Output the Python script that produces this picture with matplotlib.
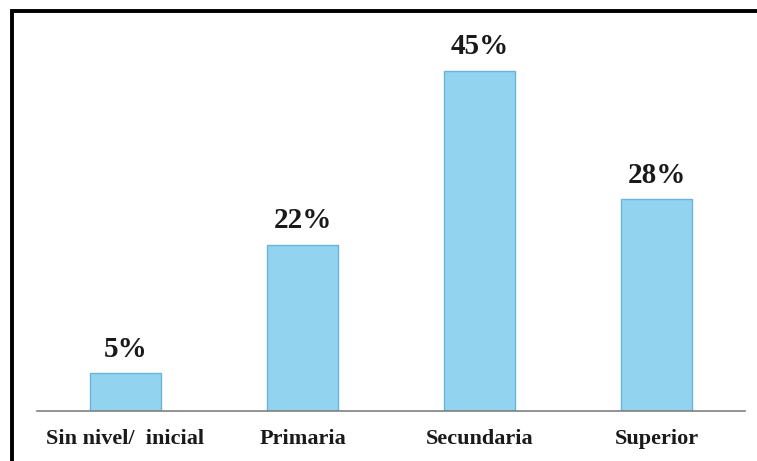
import matplotlib.pyplot as plt
from matplotlib.patches import Rectangle

categories = ['Sin nivel/  inicial', 'Primaria', 'Secundaria', 'Superior']
values = [5, 22, 45, 28]
labels = ['5%', '22%', '45%', '28%']

W, H = 757, 461
fig = plt.figure(figsize=(W / 100, H / 100), dpi=100)
ax = fig.add_axes([37 / W, 50 / H, 708 / W, 391 / H])

x = range(len(categories))
ax.bar(x, values, width=0.4, color='#92D3F0', edgecolor='#6BB3D8', linewidth=1)

for i, v in enumerate(values):
    ax.text(i, v + 1.4, labels[i], ha='center', va='bottom',
            fontsize=21, fontweight='bold', family='Liberation Serif', color='#1a1a1a')

ax.set_xlim(-0.5, 3.5)
ax.set_ylim(0, 391 / 7.556)
ax.set_xticks(list(x))
ax.set_xticklabels(categories, fontsize=16, fontweight='bold',
                   family='Liberation Serif', color='#1a1a1a')
ax.tick_params(axis='x', length=0, pad=13)
ax.set_yticks([])
for side in ['top', 'right', 'left']:
    ax.spines[side].set_visible(False)
ax.spines['bottom'].set_color('#808080')
ax.spines['bottom'].set_linewidth(1.2)

# outer frame, running off the right and bottom edges
fig.patches.append(Rectangle((11.5 / W, -0.05), 1.0, 1 - 11.5 / H + 0.05,
                             transform=fig.transFigure, fill=False,
                             edgecolor='black', linewidth=2.8))

fig.savefig('out.png', dpi=100)
